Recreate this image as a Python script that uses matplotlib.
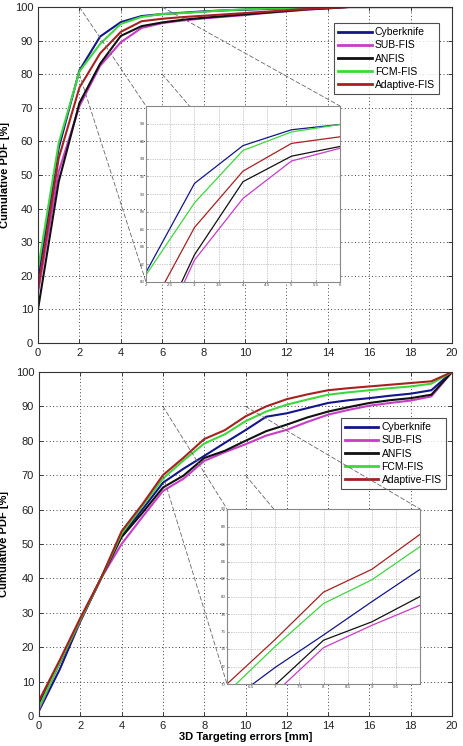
import numpy as np
import matplotlib
matplotlib.use("Agg")
import matplotlib.pyplot as plt
from matplotlib.patches import ConnectionPatch

plt.rcParams['font.family'] = ['Liberation Sans', 'DejaVu Sans']

# ---- data ----
methods = ['Cyberknife', 'SUB-FIS', 'ANFIS', 'FCM-FIS', 'Adaptive-FIS']
colors = ['#14148c', '#c83cc8', '#111111', '#3cd83c', '#a82020']

x = np.arange(0, 21)

cyber_top = [19, 58, 81.1, 91.2, 95.5, 97.3, 97.9, 98.3, 98.7, 99.0, 99.2,
             99.4, 99.6, 99.8, 99.9, 100, 100, 100, 100, 100, 100]
sub_top = [15, 51, 70.5, 82.5, 89.5, 93.75, 95.2, 96.0, 96.6, 97.1, 97.6,
           98.2, 98.7, 99.2, 99.6, 100, 100, 100, 100, 100, 100]
anfis_top = [10, 48, 71.4, 83.1, 91.4, 94.3, 95.4, 96.2, 96.8, 97.3, 97.8,
             98.3, 98.8, 99.3, 99.6, 100, 100, 100, 100, 100, 100]
fcm_top = [22, 59.5, 80.8, 89.0, 94.95, 97.05, 97.9, 98.2, 98.6, 99.0, 99.3,
           99.5, 99.7, 99.9, 100, 100, 100, 100, 100, 100, 100]
adapt_top = [16, 55, 76, 86.2, 92.6, 95.75, 96.5, 97.0, 97.4, 97.8, 98.2,
             98.6, 99.0, 99.4, 99.7, 100, 100, 100, 100, 100, 100]

cyber_bot = [1.5, 13.5, 27.5, 40, 52.5, 60, 67.8, 71.9, 75.6, 79.4, 83.1,
             87.0, 88.0, 89.5, 91.0, 91.8, 92.4, 93.1, 93.7, 94.7, 100]
sub_bot = [2, 15.5, 27.5, 40, 50, 57.8, 65.4, 69.0, 74.15, 76.7, 79.0,
           81.5, 83.2, 85.5, 87.6, 89.0, 90.2, 91.0, 91.7, 92.9, 100]
anfis_bot = [3.5, 15.5, 27.8, 40, 52, 59, 66.4, 69.9, 75.0, 77.1, 80.0,
             82.8, 84.7, 86.8, 88.5, 89.8, 91.0, 91.8, 92.4, 93.4, 100]
fcm_bot = [2.5, 15.5, 28, 40, 53, 61, 69.0, 74.3, 79.2, 81.9, 85.7,
           88.5, 90.5, 92.0, 93.4, 94.1, 94.7, 95.3, 95.8, 96.6, 100]
adapt_bot = [4.5, 16.2, 28.5, 40, 53.7, 61.5, 70.0, 75.1, 80.5, 83.1, 87.1,
             90.0, 92.1, 93.5, 94.7, 95.3, 95.8, 96.3, 96.8, 97.3, 100]

top_series = [cyber_top, sub_top, anfis_top, fcm_top, adapt_top]
bot_series = [cyber_bot, sub_bot, anfis_bot, fcm_bot, adapt_bot]

W, H = 464, 746
fig = plt.figure(figsize=(W / 100, H / 100), dpi=100, facecolor='white')


def px_axes(l, t, r, b):
    return fig.add_axes([l / W, 1 - b / H, (r - l) / W, (b - t) / H])


def style_main(ax):
    ax.set_xlim(0, 20)
    ax.set_ylim(0, 100)
    ax.set_xticks(range(0, 21, 2))
    ax.set_yticks(range(0, 101, 10))
    ax.tick_params(direction='in', labelsize=8, length=3, width=0.6,
                   top=True, right=True, colors='#222222', labelcolor='#222222')
    ax.grid(True, linestyle=(0, (1, 2.5)), color='#444444', linewidth=0.7)
    for s in ax.spines.values():
        s.set_color('#333333')
        s.set_linewidth(0.8)


def style_inset(ax, xl, yl, xt, yt):
    ax.set_xlim(*xl)
    ax.set_ylim(*yl)
    ax.set_xticks(xt)
    ax.set_yticks(yt)
    ax.tick_params(direction='in', labelsize=3.2, length=1.5, width=0.4,
                   pad=1, colors='#666666', labelcolor='#444444')
    ax.grid(True, linestyle=(0, (1, 1.5)), color='#999999', linewidth=0.5)
    ax.set_facecolor('white')
    for s in ax.spines.values():
        s.set_color('#888888')
        s.set_linewidth(0.8)
    ax.set_zorder(5)


def connect(ax, ins, pts):
    for (xa, ya), (xb, yb) in pts:
        cp = ConnectionPatch(xyA=(xa, ya), coordsA=ax.transData,
                             xyB=(xb, yb), coordsB=ins.transAxes,
                             linestyle=(0, (5, 3)), color='#666666',
                             linewidth=0.6, zorder=6)
        cp.set_clip_on(False)
        ax.add_artist(cp)


# ---- top chart ----
ax1 = px_axes(38, 7, 452, 343)
for vals, c, m in zip(top_series, colors, methods):
    ax1.plot(x, vals, color=c, linewidth=1.5, label=m)
style_main(ax1)
ax1.set_ylabel('Cumulative PDF [%]', fontsize=8, fontweight='bold')
ax1.yaxis.set_label_coords(-0.068, 0.5)
leg1 = ax1.legend(loc='upper right', bbox_to_anchor=(0.969, 0.952), fontsize=7.5,
                  frameon=True, fancybox=False, edgecolor='#222222',
                  handlelength=3.2, labelspacing=0.3, borderpad=0.4,
                  handletextpad=0.3, borderaxespad=0)
leg1.get_frame().set_linewidth(0.8)
for ln in leg1.get_lines():
    ln.set_linewidth(2)

in1 = px_axes(146, 106, 340, 282)
for vals, c in zip(top_series, colors):
    in1.plot(x, vals, color=c, linewidth=0.9)
style_inset(in1, (2, 6), (80, 100), np.arange(2, 6.01, 0.5), range(80, 99, 2))
in1.set_xticklabels(['2', '2.5', '3', '3.5', '4', '4.5', '5', '5.5', '6'])
connect(ax1, in1, [((2, 100), (0, 1)), ((2, 80), (0, 0)),
                   ((6, 100), (1, 1)), ((6, 80), (1, 0))])

# ---- bottom chart ----
ax2 = px_axes(39, 372, 452, 716)
for vals, c, m in zip(bot_series, colors, methods):
    ax2.plot(x, vals, color=c, linewidth=1.5, label=m)
style_main(ax2)
ax2.set_ylabel('Cumulative PDF [%]', fontsize=8, fontweight='bold')
ax2.yaxis.set_label_coords(-0.072, 0.5)
ax2.set_xlabel('3D Targeting errors [mm]', fontsize=8, fontweight='bold', labelpad=1)
leg2 = ax2.legend(loc='upper right', bbox_to_anchor=(0.985, 0.866), fontsize=7.5,
                  frameon=True, fancybox=False, edgecolor='#222222',
                  handlelength=3.2, labelspacing=0.3, borderpad=0.4,
                  handletextpad=0.3, borderaxespad=0)
leg2.get_frame().set_linewidth(0.8)
for ln in leg2.get_lines():
    ln.set_linewidth(2)

in2 = px_axes(227, 509, 420, 684)
for vals, c in zip(bot_series, colors):
    in2.plot(x, vals, color=c, linewidth=0.9)
style_inset(in2, (6, 10), (70, 90), np.arange(6, 10.01, 0.5), range(70, 91, 2))
in2.set_xticklabels(['', '6.5', '7', '7.5', '8', '8.5', '9', '9.5', ''])
connect(ax2, in2, [((6, 90), (0, 1)), ((6, 70), (0, 0)),
                   ((10, 90), (1, 1)), ((10, 70), (1, 0))])

fig.savefig('out.png', dpi=100, facecolor='white')
